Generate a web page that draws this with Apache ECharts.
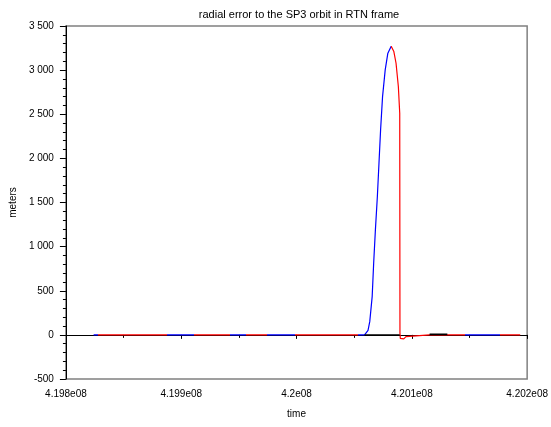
<!DOCTYPE html>
<html>
<head>
<meta charset="utf-8">
<script src="https://cdn.jsdelivr.net/npm/echarts@6/dist/echarts.min.js"></script>
<style>html,body{margin:0;padding:0;background:#fff}#c{width:551px;height:427px}</style>
</head>
<body>
<div id="c"></div>
<script>
// ---- data ----
const titleText = "radial error to the SP3 orbit in RTN frame";
const xName = "time";
const yName = "meters";
const xTickLabels = ["4.198e08", "4.199e08", "4.2e08", "4.201e08", "4.202e08"];
const yTickLabels = ["-500", "0", "500", "1 000", "1 500", "2 000", "2 500", "3 000", "3 500"];

// main radial error curve (time [s], error [m])
const times = [
  419824000, 419828200, 419888000, 419911100, 419942700, 419956400, 419974400,
  419998300, 420053000, 420059000, 420060700, 420062000, 420063500, 420065600, 420066900,
  420068400, 420070100, 420071500, 420072900, 420074600, 420076900, 420079200,
  420082100, 420084400, 420086300, 420088300, 420089500, 420089700, 420090000,
  420093000, 420094900, 420096600, 420115400, 420130800, 420146200, 420176100,
  420194000
];
const errors = [
  0, 0, 0, 0, 0, 0, 0,
  0, 0, 0, 5, 50, 150, 434, 815,
  1190, 1567, 1945, 2323, 2700, 3003, 3192,
  3270, 3210, 3078, 2814, 2512, 20, -40,
  -45, -20, 0, 0, 0, 0, 0,
  0
];
// colour switch points along the time axis (segment starts) and their colours
const colorBreaks = [
  419824000, 419828200, 419888000, 419911100, 419942700, 419956400,
  419974400, 419998300, 420053000, 420082100, 420146200, 420176100
];
const colorNames = [
  "blue", "red", "blue", "red", "blue", "red",
  "blue", "red", "blue", "red", "blue", "red"
];
// black reference pieces
const blackTimes = [420059000, 420089500, null, 420115400, 420130800];
const blackValues = [0, 0, null, 8, 8];

// ---- build ----
const palette = { blue: "#0000ff", red: "#ff0000" };
const mainData = times.map((t, i) => [t, errors[i]]);
const blackData = blackTimes.map((t, i) => t === null ? [null, null] : [t, blackValues[i]]);
const pieces = colorBreaks.map((b, i) => {
  const p = { gte: b, color: palette[colorNames[i]] };
  if (i < colorBreaks.length - 1) p.lt = colorBreaks[i + 1];
  return p;
});
pieces[0].gte = 419000000;

const xMin = 419800000, xStep = 100000;
const yMin = -500, yStep = 500;
const font = "Liberation Sans, Arial, sans-serif";

const chart = echarts.init(document.getElementById('c'), null, { renderer: 'canvas' });
chart.setOption({
  animation: false,
  backgroundColor: '#ffffff',
  title: {
    text: titleText,
    left: 294, top: 4, textAlign: 'center',
    textStyle: { fontSize: 11, fontWeight: 'normal', color: '#000', fontFamily: font }
  },
  grid: { left: 60, top: 26, right: 23, bottom: 48, show: true, borderColor: '#808080', borderWidth: 1.5, backgroundColor: 'transparent' },
  xAxis: {
    type: 'value', min: xMin, max: 420200000, interval: xStep,
    name: xName, nameLocation: 'middle', nameGap: 30,
    nameTextStyle: { fontSize: 10, color: '#000', fontFamily: font },
    axisLine: { lineStyle: { color: '#000', width: 1 } },
    axisTick: { show: true, length: 4, inside: false, lineStyle: { color: '#000' } },
    minorTick: { show: true, splitNumber: 2, length: 3, lineStyle: { color: '#000' } },
    splitLine: { show: false },
    axisLabel: {
      fontSize: 10, color: '#000', fontFamily: font, margin: 10,
      formatter: v => xTickLabels[Math.round((v - xMin) / xStep)]
    }
  },
  yAxis: {
    type: 'value', min: yMin, max: 3500, interval: yStep,
    name: yName, nameLocation: 'middle', nameGap: 45, nameRotate: 90,
    nameTextStyle: { fontSize: 10, color: '#000', fontFamily: font },
    axisLine: { onZero: false, lineStyle: { color: '#000', width: 1 } },
    axisTick: { show: true, length: 6, lineStyle: { color: '#000' } },
    minorTick: { show: true, splitNumber: 5, length: 3, lineStyle: { color: '#000' } },
    splitLine: { show: false },
    axisLabel: {
      fontSize: 10, color: '#000', fontFamily: font, margin: 12,
      formatter: v => yTickLabels[Math.round((v - yMin) / yStep)]
    }
  },
  visualMap: {
    show: false, type: 'piecewise', dimension: 0, seriesIndex: 0,
    pieces: pieces
  },
  series: [
    {
      type: 'line', data: mainData, showSymbol: false, symbol: 'none',
      lineStyle: { width: 1.2 }
    },
    {
      type: 'line', data: blackData, showSymbol: false, symbol: 'none', connectNulls: false,
      lineStyle: { width: 1.5, color: '#000' }, itemStyle: { color: '#000' }
    }
  ]
});
</script>
</body>
</html>
